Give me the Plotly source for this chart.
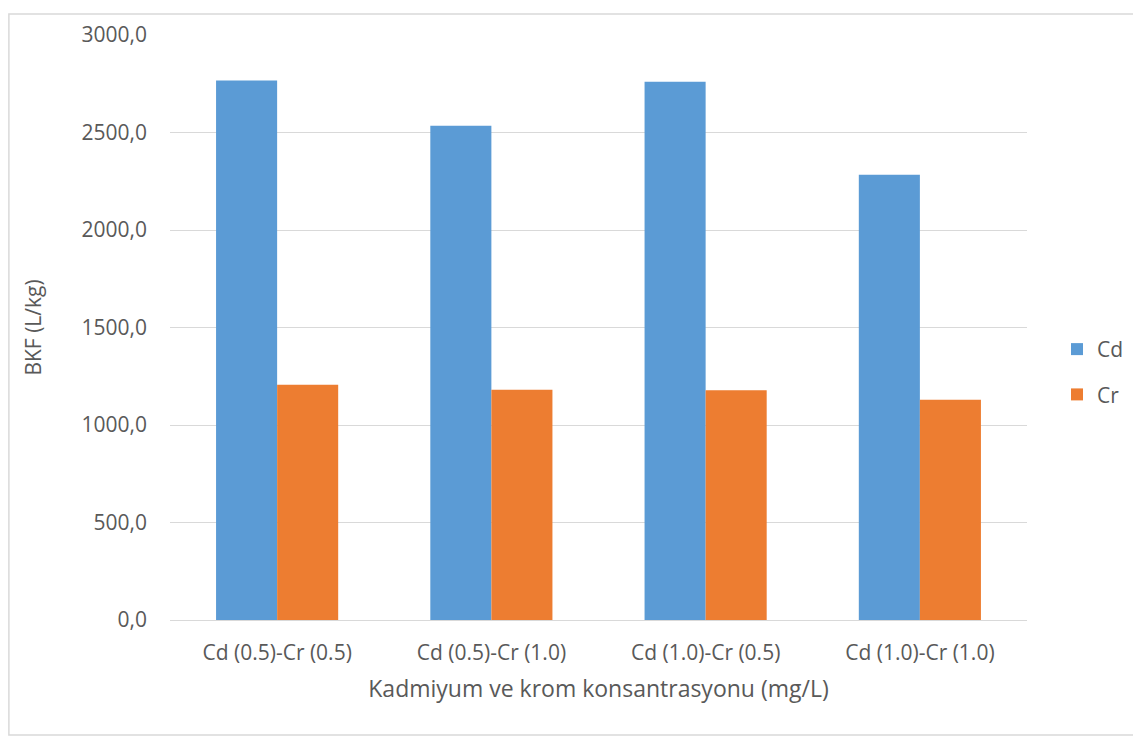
import plotly.graph_objects as go

categories = ["Cd (0.5)-Cr (0.5)", "Cd (0.5)-Cr (1.0)", "Cd (1.0)-Cr (0.5)", "Cd (1.0)-Cr (1.0)"]
cd_values = [2767, 2534, 2760, 2283]
cr_values = [1206, 1181, 1178, 1129]
tick_vals = [0, 500, 1000, 1500, 2000, 2500, 3000]

# the page body has an 8px margin, so the figure is sized/offset to compensate
W, H = 1133, 732
L, R, T, B = 162, 113, 22, 120
FONT = "Open Sans"
TXT = "#595959"

fig = go.Figure()
fig.add_trace(go.Bar(name="Cd", x=categories, y=cd_values, marker_color="#5B9BD5",
                     marker_line_width=0, legendgroup="a"))
fig.add_trace(go.Bar(name="Cr", x=categories, y=cr_values, marker_color="#ED7D31",
                     marker_line_width=0, legendgroup="b"))

pw = W - L - R
ph = H - T - B
fig.add_shape(type="rect", xref="paper", yref="paper",
              x0=(0.7 - L) / pw, x1=(1127 - L) / pw,
              y0=(T + ph - 728) / ph, y1=(T + ph - 0.7) / ph,
              line=dict(color="#d9d9d9", width=1.5), fillcolor="rgba(0,0,0,0)", layer="below")

fig.update_layout(
    width=W, height=H,
    margin=dict(l=L, r=R, t=T, b=B),
    paper_bgcolor="white", plot_bgcolor="white",
    separators=", ",
    barmode="group", bargap=0.43, bargroupgap=0,
    font=dict(family=FONT, size=21, color=TXT),
    xaxis=dict(showgrid=False, showline=False, ticks="",
               ticklabelstandoff=18,
               tickfont=dict(size=21, color=TXT),
               title=dict(text="Kadmiyum ve krom konsantrasyonu (mg/L)", font=dict(size=23, color=TXT), standoff=15)),
    yaxis=dict(range=[0, 3000], tickvals=tick_vals, tickformat=".1f",
               showgrid=True, gridcolor="#d9d9d9", gridwidth=1,
               zeroline=True, zerolinecolor="#d9d9d9", zerolinewidth=1,
               showline=False, ticks="", ticklabelstandoff=22,
               tickfont=dict(size=21, color=TXT),
               title=dict(text="BKF (L/kg)", font=dict(size=21, color=TXT), standoff=34)),
    legend=dict(x=1.035, y=0.424, xanchor="left", yanchor="middle",
                font=dict(size=21, color=TXT), tracegroupgap=15,
                itemwidth=30, bgcolor="rgba(0,0,0,0)"),
    showlegend=True,
)

fig.write_html("out.html")
